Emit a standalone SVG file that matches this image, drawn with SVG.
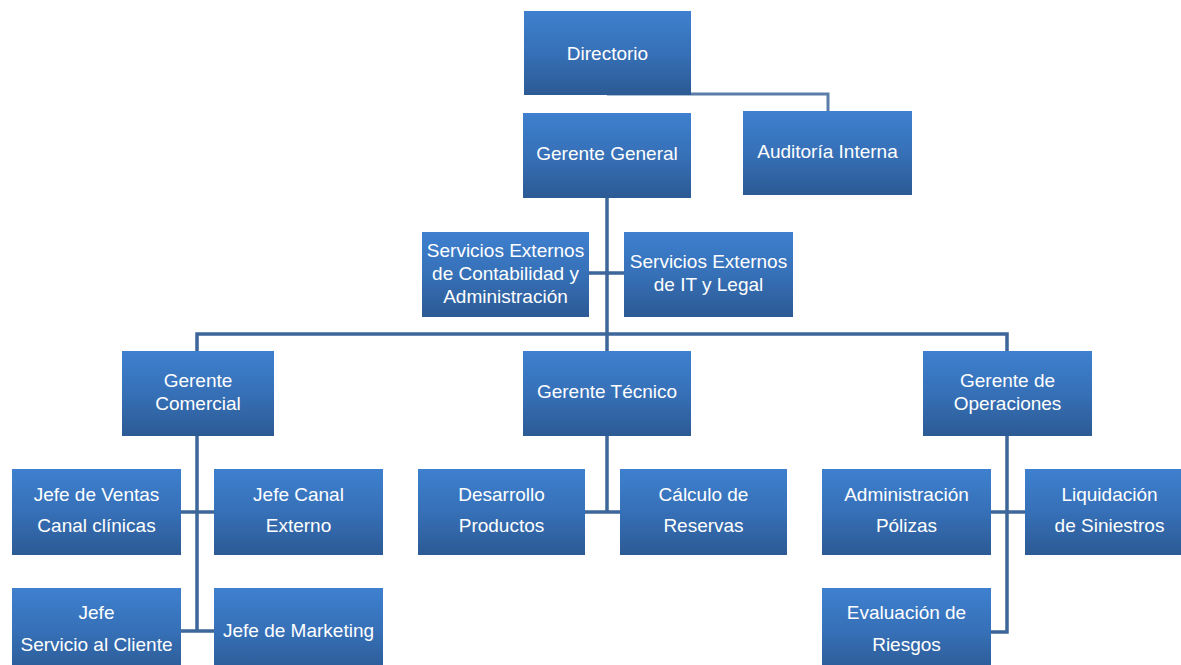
<svg xmlns="http://www.w3.org/2000/svg" width="1181" height="665" viewBox="0 0 1181 665">
<defs>
<linearGradient id="g" x1="0" y1="0" x2="0" y2="1">
<stop offset="0" stop-color="#3e80cf"/>
<stop offset="0.5" stop-color="#3670b7"/>
<stop offset="1" stop-color="#2c5a94"/>
</linearGradient>
<style>
.box{fill:url(#g);}
.t{font-family:"Liberation Sans",Arial,sans-serif;font-size:19px;fill:#ffffff;text-anchor:middle;}
.c{fill:none;stroke:#3d669b;stroke-width:3.5;}
.c2{fill:none;stroke:#5b7ea8;stroke-width:3;}
</style>
</defs>
<rect width="1181" height="665" fill="#ffffff"/>
<g id="connectors">
<path class="c2" d="M607,94 H828 V111"/>
<path class="c" d="M607,198 V351"/>
<path class="c" d="M589,273 H624"/>
<path class="c" d="M197,351 V334 H1007 V351"/>
<path class="c" d="M197,436 V631"/>
<path class="c" d="M181,512 H214"/>
<path class="c" d="M181,631 H214"/>
<path class="c" d="M607,436 V512"/>
<path class="c" d="M585,512 H620"/>
<path class="c" d="M1007,436 V632 H991"/>
<path class="c" d="M991,512 H1025"/>
</g>
<g id="directorio"><rect class="box" x="524" y="11" width="167" height="84"/><text class="t" x="607.5" y="59.5">Directorio</text></g>
<g id="gerente-general"><rect class="box" x="523" y="113" width="168" height="85"/><text class="t" x="607" y="159.5">Gerente General</text></g>
<g id="auditoria-interna"><rect class="box" x="743" y="111" width="169" height="84"/><text class="t" x="827.5" y="157.5">Auditoría Interna</text></g>
<g id="servicios-contabilidad"><rect class="box" x="422" y="232" width="167" height="85"/><text class="t" x="505.5" y="256.5">Servicios Externos</text><text class="t" x="505.5" y="279.5">de Contabilidad y</text><text class="t" x="505.5" y="302.5">Administración</text></g>
<g id="servicios-it"><rect class="box" x="624" y="232" width="169" height="85"/><text class="t" x="708.5" y="267.5">Servicios Externos</text><text class="t" x="708.5" y="290.5">de IT y Legal</text></g>
<g id="gerente-comercial"><rect class="box" x="122" y="351" width="152" height="85"/><text class="t" x="198" y="386.5">Gerente</text><text class="t" x="198" y="409.5">Comercial</text></g>
<g id="gerente-tecnico"><rect class="box" x="523" y="351" width="168" height="85"/><text class="t" x="607" y="397.5">Gerente Técnico</text></g>
<g id="gerente-operaciones"><rect class="box" x="923" y="351" width="169" height="85"/><text class="t" x="1007.5" y="386.5">Gerente de</text><text class="t" x="1007.5" y="409.5">Operaciones</text></g>
<g id="jefe-ventas"><rect class="box" x="12" y="469" width="169" height="86"/><text class="t" x="96.5" y="500.5">Jefe de Ventas</text><text class="t" x="96.5" y="531.5">Canal clínicas</text></g>
<g id="jefe-canal-externo"><rect class="box" x="214" y="469" width="169" height="86"/><text class="t" x="298.5" y="500.5">Jefe Canal</text><text class="t" x="298.5" y="531.5">Externo</text></g>
<g id="desarrollo-productos"><rect class="box" x="418" y="469" width="167" height="86"/><text class="t" x="501.5" y="500.5">Desarrollo</text><text class="t" x="501.5" y="531.5">Productos</text></g>
<g id="calculo-reservas"><rect class="box" x="620" y="469" width="167" height="86"/><text class="t" x="703.5" y="500.5">Cálculo de</text><text class="t" x="703.5" y="531.5">Reservas</text></g>
<g id="administracion-polizas"><rect class="box" x="822" y="469" width="169" height="86"/><text class="t" x="906.5" y="500.5">Administración</text><text class="t" x="906.5" y="531.5">Pólizas</text></g>
<g id="liquidacion-siniestros"><rect class="box" x="1025" y="469" width="169" height="86"/><text class="t" x="1109.5" y="500.5">Liquidación</text><text class="t" x="1109.5" y="531.5">de Siniestros</text></g>
<g id="jefe-servicio-cliente"><rect class="box" x="12" y="588" width="169" height="86"/><text class="t" x="96.5" y="618.5">Jefe</text><text class="t" x="96.5" y="650.5">Servicio al Cliente</text></g>
<g id="jefe-marketing"><rect class="box" x="214" y="588" width="169" height="86"/><text class="t" x="298.5" y="636.5">Jefe de Marketing</text></g>
<g id="evaluacion-riesgos"><rect class="box" x="822" y="588" width="169" height="86"/><text class="t" x="906.5" y="618.5">Evaluación de</text><text class="t" x="906.5" y="650.5">Riesgos</text></g>
</svg>
